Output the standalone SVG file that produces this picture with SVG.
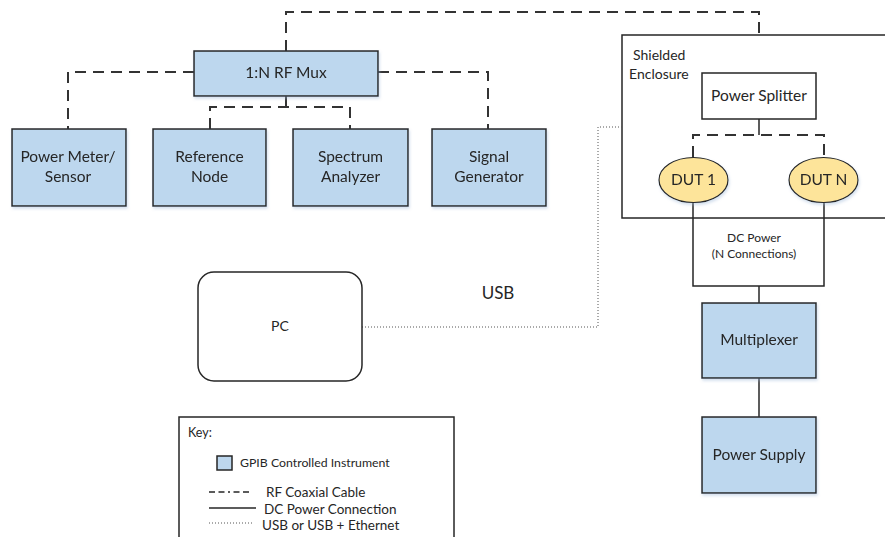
<svg xmlns="http://www.w3.org/2000/svg" width="885" height="537" viewBox="0 0 885 537">
  <style>
    text { font-family: Lato, "Open Sans", "Liberation Sans", sans-serif; fill: #262626; }
    .inst { fill: #bdd7ee; stroke: #262626; stroke-width: 1.5; }
    .plain { fill: #ffffff; stroke: #262626; stroke-width: 1.5; }
    .dut { fill: #fde49a; stroke: #262626; stroke-width: 1.2; }
    .rf { fill: none; stroke: #333333; stroke-width: 2; stroke-dasharray: 11 7; }
    .dc { fill: none; stroke: #262626; stroke-width: 1.5; }
    .usb { fill: none; stroke: #555555; stroke-width: 1; stroke-dasharray: 1 2; }
    .lbl { font-size: 15.5px; text-anchor: middle; }
    .small { font-size: 12px; text-anchor: middle; }
    .key { font-size: 13.5px; }
  </style>
  <defs>
    <filter id="shadow" x="-10%" y="-10%" width="125%" height="130%">
      <feDropShadow dx="1" dy="2" stdDeviation="1.5" flood-color="#9db8d8" flood-opacity="0.45"/>
    </filter>
  </defs>

  <rect width="885" height="537" fill="#ffffff"/>

  <!-- Shielded enclosure (container) -->
  <g id="enclosure">
    <rect x="622" y="35" width="270" height="183" fill="none" stroke="#262626" stroke-width="1.5"/>
    <text x="633" y="60" font-size="14px">Shielded</text>
    <text x="629" y="79" font-size="14px">Enclosure</text>
  </g>

  <!-- Connectors -->
  <g id="connectors">
    <!-- RF coax: mux to enclosure -->
    <path class="rf" d="M286,51 V12 H759 V35"/>
    <!-- RF coax: mux to instruments -->
    <path class="rf" d="M194,72 H68 V129"/>
    <path class="rf" d="M378,72 H488 V129"/>
    <path class="rf" d="M286,96 V107"/>
    <path class="rf" d="M210,129 V107 H350 V129"/>
    <!-- RF coax: splitter to DUTs -->
    <path class="dc" d="M759,119 V135"/>
    <path class="rf" d="M693,157 V135 H824 V157"/>
    <!-- DC power -->
    <path class="dc" d="M693,202 V286 H824 V202"/>
    <path class="dc" d="M759,286 V303"/>
    <path class="dc" d="M759,378 V417"/>
    <!-- USB -->
    <path class="usb" d="M362,327 H598 V127 H622"/>
  </g>

  <g id="mux" filter="url(#shadow)">
    <rect class="inst" x="194" y="51" width="184" height="45"/>
    <text class="lbl" x="286" y="78">1:N RF Mux</text>
  </g>

  <g id="power-meter" filter="url(#shadow)">
    <rect class="inst" x="12" y="129" width="114" height="77"/>
    <text class="lbl" x="68" y="162">Power Meter/</text>
    <text class="lbl" x="68" y="182">Sensor</text>
  </g>

  <g id="reference-node" filter="url(#shadow)">
    <rect class="inst" x="153" y="129" width="113" height="77"/>
    <text class="lbl" x="209.5" y="162">Reference</text>
    <text class="lbl" x="209.5" y="182">Node</text>
  </g>

  <g id="spectrum-analyzer" filter="url(#shadow)">
    <rect class="inst" x="293" y="129" width="115" height="77"/>
    <text class="lbl" x="350.5" y="162">Spectrum</text>
    <text class="lbl" x="350.5" y="182">Analyzer</text>
  </g>

  <g id="signal-generator" filter="url(#shadow)">
    <rect class="inst" x="432" y="129" width="114" height="77"/>
    <text class="lbl" x="489" y="162">Signal</text>
    <text class="lbl" x="489" y="182">Generator</text>
  </g>

  <g id="power-splitter">
    <rect class="plain" x="702" y="73" width="114" height="46"/>
    <text class="lbl" x="759" y="101">Power Splitter</text>
  </g>

  <g id="dut-1" filter="url(#shadow)">
    <ellipse class="dut" cx="693.5" cy="180" rx="34.5" ry="22.5"/>
    <text class="lbl" x="693.5" y="185">DUT 1</text>
  </g>

  <g id="dut-n" filter="url(#shadow)">
    <ellipse class="dut" cx="823.5" cy="180" rx="34.5" ry="22.5"/>
    <text class="lbl" x="823.5" y="185">DUT N</text>
  </g>

  <g id="dc-label">
    <text class="small" x="754" y="242">DC Power</text>
    <text class="small" x="754" y="258">(N Connections)</text>
  </g>

  <g id="multiplexer" filter="url(#shadow)">
    <rect class="inst" x="702" y="303" width="114" height="75"/>
    <text class="lbl" x="759" y="345">Multiplexer</text>
  </g>

  <g id="power-supply" filter="url(#shadow)">
    <rect class="inst" x="702" y="417" width="114" height="76"/>
    <text class="lbl" x="759" y="460">Power Supply</text>
  </g>

  <g id="pc">
    <rect class="plain" x="198" y="272" width="164" height="109" rx="16" ry="16"/>
    <text x="280" y="331" font-size="14px" text-anchor="middle">PC</text>
  </g>

  <g id="usb-label">
    <text x="498" y="299" font-size="17px" text-anchor="middle">USB</text>
  </g>

  <!-- Legend -->
  <g id="key">
    <rect x="179" y="417" width="275" height="130" fill="#ffffff" stroke="#262626" stroke-width="1.5"/>
    <text x="188" y="437" font-size="12.5px">Key:</text>
    <rect class="inst" x="217" y="456" width="15" height="14" stroke-width="1.2"/>
    <text x="240" y="466.5" font-size="12.3px">GPIB Controlled Instrument</text>
    <path d="M209,492 H252" fill="none" stroke="#262626" stroke-width="1.5" stroke-dasharray="6 3.5 6 3.5 2 3.5 6 3.5 6 10"/>
    <text class="key" x="266" y="497">RF Coaxial Cable</text>
    <path class="dc" d="M209,508 H256"/>
    <text class="key" x="264" y="514">DC Power Connection</text>
    <path class="usb" d="M209,523 H252"/>
    <text class="key" x="262" y="530">USB or USB + Ethernet</text>
  </g>
</svg>
